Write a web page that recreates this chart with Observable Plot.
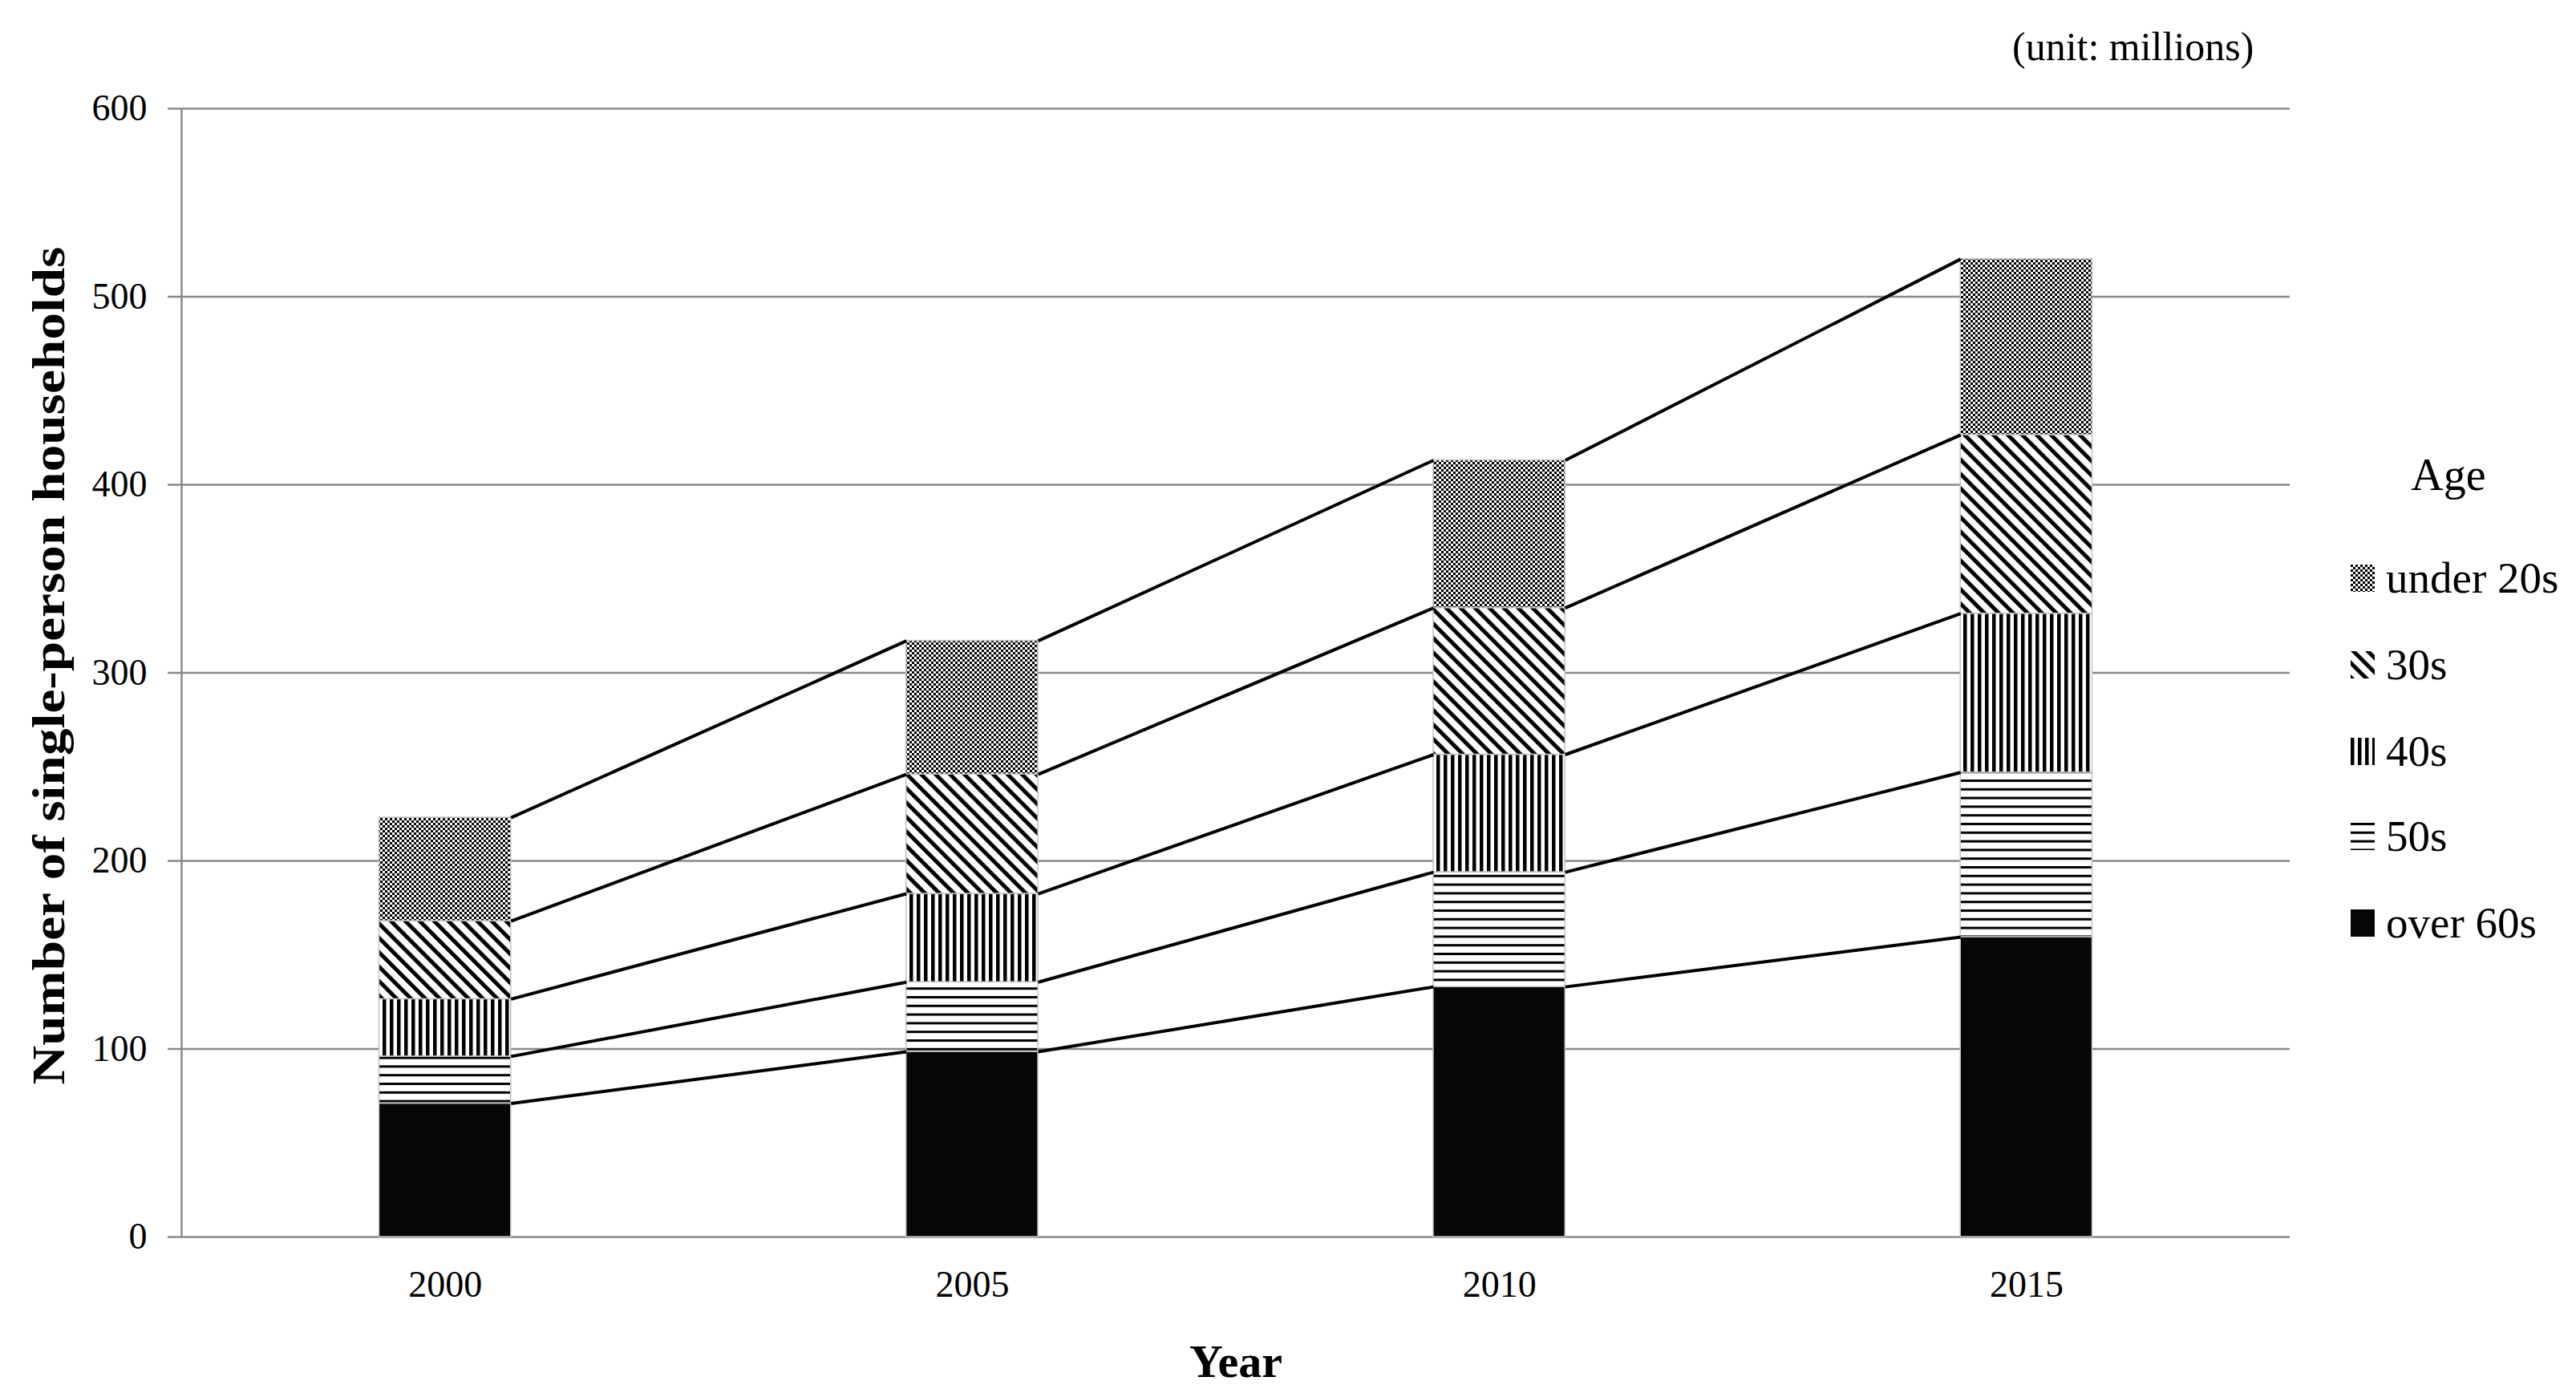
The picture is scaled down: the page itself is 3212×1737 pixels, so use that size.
<!DOCTYPE html>
<html>
<head>
<meta charset="utf-8">
<script src="https://cdn.jsdelivr.net/npm/d3@7"></script>
<script src="https://cdn.jsdelivr.net/npm/@observablehq/plot@0.6"></script>
<style>
  html, body { margin: 0; padding: 0; background: #fff; }
  #wrap { position: relative; width: 3212px; height: 1737px; font-family: "Liberation Serif", "Times New Roman", serif; color: #000; overflow: hidden; }
  #wrap > svg { position: absolute; left: 0; top: 0; }
  .unit { position: absolute; left: 2509px; top: 28px; font-size: 50px; line-height: 60px; white-space: nowrap; }
  .legend-title { position: absolute; left: 2953px; width: 200px; top: 560px; font-size: 56px; line-height: 64px; text-align: center; }
  .legend-row { position: absolute; left: 2931px; height: 64px; display: flex; align-items: center; font-size: 55px; line-height: 64px; white-space: nowrap; }
  .legend-row svg { flex: none; margin-right: 14px; }
</style>
</head>
<body>
<svg width="0" height="0" style="position:absolute">
  <defs>
    <pattern id="p-u20" patternUnits="userSpaceOnUse" width="6" height="6">
      <rect width="6" height="6" fill="#fff"/>
      <rect x="0" y="0" width="3" height="3" fill="#000"/>
      <rect x="3" y="3" width="3" height="3" fill="#000"/>
    </pattern>
    <pattern id="p-30" patternUnits="userSpaceOnUse" width="12.7" height="12.7" patternTransform="rotate(-45)">
      <rect width="12.7" height="12.7" fill="#fff"/>
      <rect x="0" y="0" width="5" height="12.7" fill="#000"/>
    </pattern>
    <pattern id="p-40" patternUnits="userSpaceOnUse" width="9" height="9">
      <rect width="9" height="9" fill="#fff"/>
      <rect x="0" y="0" width="4.5" height="9" fill="#000"/>
    </pattern>
    <pattern id="p-50" patternUnits="userSpaceOnUse" width="10.8" height="10.8">
      <rect width="10.8" height="10.8" fill="#fff"/>
      <rect x="0" y="0" width="10.8" height="3" fill="#000"/>
    </pattern>
  </defs>
</svg>
<div id="wrap"></div>
<script>
// ---- data ----
const years = ["2000", "2005", "2010", "2015"];
const ageGroups = ["over 60s", "50s", "40s", "30s", "under 20s"]; // bottom to top
const over60s  = [71, 98.5, 133, 159.5];
const s50s     = [25, 37, 61, 87.5];
const s40s     = [30.5, 47, 62.5, 84.5];
const s30s     = [41.5, 63.5, 78, 95];
const under20s = [55, 71, 78.5, 93.5];
const yTicks = [0, 100, 200, 300, 400, 500, 600];
const legendOrder = ["under 20s", "30s", "40s", "50s", "over 60s"];

// ---- styling helpers ----
const fills = {
  "over 60s": "#060606",
  "50s": "url(#p-50)",
  "40s": "url(#p-40)",
  "30s": "url(#p-30)",
  "under 20s": "url(#p-u20)"
};
const seriesValues = [over60s, s50s, s40s, s30s, under20s];
const halfBar = 0.125;

// stacked rows
const rows = [];
const cumTops = [];
const base = years.map(() => 0);
seriesValues.forEach((vals, k) => {
  cumTops.push([]);
  vals.forEach((v, i) => {
    rows.push({group: ageGroups[k], i, y1: base[i], y2: base[i] + v});
    base[i] += v;
    cumTops[k].push(base[i]);
  });
});

// series lines between bars
const links = [];
cumTops.forEach((tops) => {
  for (let i = 0; i < tops.length - 1; i++) {
    links.push({x1: i + halfBar, y1: tops[i], x2: i + 1 - halfBar, y2: tops[i + 1]});
  }
});

const barMarks = ageGroups.map(g =>
  Plot.rectY(rows.filter(d => d.group === g), {
    x1: d => d.i - halfBar,
    x2: d => d.i + halfBar,
    y1: "y1",
    y2: "y2",
    fill: fills[g],
    stroke: "#c4c4c4",
    strokeWidth: 1.5
  })
);

const chart = Plot.plot({
  width: 3212,
  height: 1737,
  marginLeft: 226,
  marginRight: 357,
  marginTop: 135,
  marginBottom: 195,
  style: {fontFamily: "'Liberation Serif','Times New Roman',serif", fontSize: "46px", color: "#000", background: "transparent", overflow: "visible"},
  x: {type: "linear", domain: [-0.5, 3.5]},
  y: {domain: [0, 600]},
  marks: [
    Plot.ruleY(yTicks, {stroke: "#898989", strokeWidth: 2.5}),
    Plot.ruleX([-0.5], {stroke: "#898989", strokeWidth: 2.5}),
    ...barMarks,
    Plot.link(links, {x1: "x1", y1: "y1", x2: "x2", y2: "y2", stroke: "#000", strokeWidth: 4}),
    Plot.axisY(yTicks, {tickSize: 17, tickPadding: 26, stroke: "#898989", strokeWidth: 2.5, fill: "#000", fontSize: 46, label: null, tickFormat: d => String(d)}),
    Plot.axisX([0, 1, 2, 3], {tickSize: 0, tickPadding: 42, fill: "#000", fontSize: 46, label: null, tickFormat: d => years[d]})
  ]
});

const wrap = document.getElementById("wrap");
wrap.appendChild(chart);

// axis titles
const svg = d3.select(chart);
svg.append("text")
  .attr("transform", "translate(60,830) rotate(-90)")
  .attr("text-anchor", "middle")
  .attr("dy", "0.35em")
  .attr("font-size", 58)
  .attr("font-weight", "bold")
  .attr("fill", "#000")
  .attr("textLength", 1045)
  .attr("lengthAdjust", "spacingAndGlyphs")
  .text("Number of single-person households");
svg.append("text")
  .attr("x", 1541)
  .attr("y", 1717)
  .attr("text-anchor", "middle")
  .attr("font-size", 58)
  .attr("font-weight", "bold")
  .attr("fill", "#000")
  .text("Year");

// unit note
const unit = document.createElement("div");
unit.className = "unit";
unit.textContent = "(unit: millions)";
wrap.appendChild(unit);

// legend
const lt = document.createElement("div");
lt.className = "legend-title";
lt.textContent = "Age";
wrap.appendChild(lt);
const rowCenters = [721, 829, 937, 1043, 1151];
legendOrder.forEach((g, j) => {
  const row = document.createElement("div");
  row.className = "legend-row";
  row.style.top = (rowCenters[j] - 32) + "px";
  row.innerHTML = `<svg width="30" height="34"><rect width="30" height="34" fill="${fills[g]}"/></svg><span>${g}</span>`;
  wrap.appendChild(row);
});
</script>
</body>
</html>
